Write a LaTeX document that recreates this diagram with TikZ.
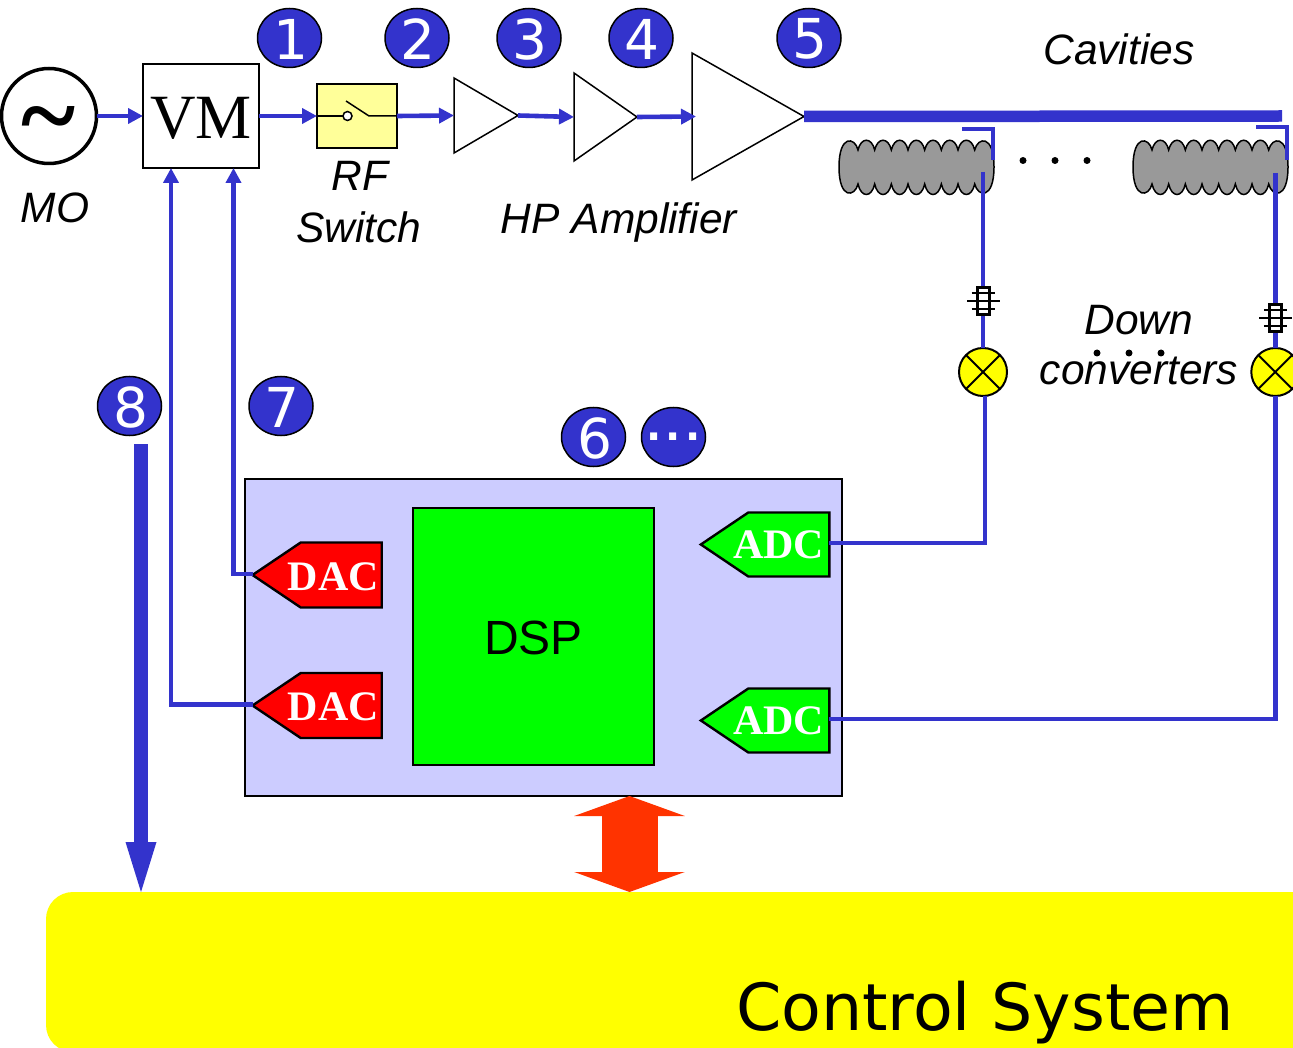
\documentclass[tikz,border=0pt]{standalone}
\usepackage{fontspec}
\setmainfont{Liberation Sans}
\newfontfamily\serffont{Liberation Serif}
\newfontfamily\verdfont{DejaVu Sans}
\usepackage{xcolor}
\usetikzlibrary{positioning,arrows.meta,shapes.geometric,shapes.symbols}
\definecolor{rfblue}{HTML}{3333CC}
\definecolor{boardblue}{HTML}{CCCCFF}
\definecolor{swyellow}{HTML}{FFFF99}
\definecolor{hotred}{HTML}{FF3300}
\definecolor{ctrlyellow}{HTML}{FFFF00}
\definecolor{dspgreen}{HTML}{00FF00}
\definecolor{dacred}{HTML}{FF0000}
\newcommand{\pxfont}[1]{\fontsize{#1}{#1}\selectfont}
% moves a text down without changing the box the node is centred on
\newcommand{\lowered}[2]{\raisebox{-#1pt}[\height][\depth]{#2}}
\tikzset{
  rfline/.style={draw=rfblue, line width=4.6pt},
  rfarrow/.style={rfline, -{Triangle[length=15pt,width=15pt]}},
  badge/.style={ellipse, draw=black, line width=1.5pt, fill=rfblue, text=white, minimum width=64pt, minimum height=59pt, inner sep=0pt, font=\verdfont\pxfont{55}},
  label/.style={font=\itshape\pxfont{42.5}, inner sep=0pt},
  amp/.style={isosceles triangle, isosceles triangle stretches, draw=black, line width=1.5pt, fill=white, anchor=lower side, inner sep=0pt, outer sep=0pt},
  dacbox/.style={signal, signal to=west, signal pointer angle=68, draw=black, line width=2.4pt, fill=dacred, text=white, minimum height=65pt, inner sep=0pt, outer sep=0pt, font=\serffont\bfseries\pxfont{42}},
  adcbox/.style={dacbox, fill=dspgreen, minimum height=64pt},
  mixer/.style={circle, draw=black, line width=2pt, fill=ctrlyellow, minimum size=48pt, inner sep=0pt, outer sep=0pt, path picture={
    \draw[line width=2pt] (path picture bounding box.south west) -- (path picture bounding box.north east);
    \draw[line width=2pt] (path picture bounding box.north west) -- (path picture bounding box.south east);}},
  dotmark/.style={circle, fill=black, minimum size=7pt, inner sep=0pt},
  pics/cavity/.style={code={
    % origin at the first valley of the upper edge; y runs downwards
    \path[draw=black, line width=1.5pt, fill=black!40] (0,0)
      \foreach \i in {1,...,7} {
        .. controls ({(\i-1)*16.67+3},-13) and ({\i*16.67-3},-13) .. ({\i*16.67},0)}
      .. controls (119.7,-13) and (136,-16) .. (136,17)
      .. controls (136,50) and (119.7,47) .. (116.7,34)
      \foreach \i in {6,...,0} {
        .. controls ({(\i+1)*16.67-3},48) and ({\i*16.67+3},48) .. ({\i*16.67},34)}
      .. controls (-3,47) and (-19,50) .. (-19,17)
      .. controls (-19,-16) and (-3,-13) .. (0,0) -- cycle;
  }},
  pics/coupler/.style={code={
    \draw[line width=3pt, fill=white] (-6,-13) rectangle (6,13.5);
    \draw[line width=2.4pt] (-16,0) -- (17,0);
    \draw[line width=2.4pt] (-11.5,-8) -- (11.5,-8);
    \draw[line width=2.4pt] (-11.5,8) -- (11.5,8);
  }}
}
% text wider than the rectangular part of the converter shape, pulled left
\newcommand{\convtxt}[2]{\makebox[81pt]{\kern#1pt #2}}
\begin{document}
\begin{tikzpicture}[x=1pt, y=-1pt]
  \useasboundingbox (0,0) rectangle (1293,1048);
  % control system runs off the page at right and bottom
  \begin{scope}
    \clip (0,0) rectangle (1293,1048);
    \node[draw=none, fill=ctrlyellow, rounded corners=27pt, anchor=north west, minimum width=1400pt, minimum height=160pt, inner sep=0pt, outer sep=0pt] (ctrl) at (46,892) {};
  \end{scope}
  \node[font=\verdfont\pxfont{65}, inner sep=0pt] (ctrltxt) at (985,1012.5) {Control System};
  % board with converters and DSP
  \node[draw=black, line width=2pt, fill=boardblue, anchor=north west, minimum width=597pt, minimum height=317pt, inner sep=0pt, outer sep=0pt] (board) at (245,479) {};
  \node[draw=black, line width=2pt, fill=dspgreen, anchor=north west, minimum width=241pt, minimum height=257pt, inner sep=0pt, outer sep=0pt, font=\pxfont{48}] (dsp) at (413,508) {\lowered{1}{DSP}};
  \node[dacbox] (daca) at (341.2,575) {\lowered{1.5}{\convtxt{-16}{DAC}}};
  \node[dacbox] (dacb) at (341.2,705.5) {\lowered{1.5}{\convtxt{-16}{DAC}}};
  \node[adcbox] (adca) at (788.8,544.5) {\convtxt{-20}{ADC}};
  \node[adcbox] (adcb) at (788.8,720.5) {\convtxt{-20}{ADC}};
  % source and RF chain
  \node[circle, draw=black, line width=3.5pt, minimum size=95pt, inner sep=0pt, outer sep=0pt] (mo) at (49,116) {};
  \node[font=\serffont\bfseries\pxfont{104}, inner sep=0pt] (tilde) at (49,129) {\textasciitilde};
  \node[draw=black, line width=1.5pt, fill=white, anchor=north west, minimum width=116pt, minimum height=104pt, inner sep=0pt, outer sep=0pt, font=\serffont\pxfont{63}] (vm) at (143,64) {\lowered{2.5}{VM}};
  \node[draw=black, line width=1.5pt, fill=swyellow, anchor=north west, minimum width=80pt, minimum height=64pt, inner sep=0pt, outer sep=0pt] (rfsw) at (317,84) {};
  \coordinate (swa) at (343,116);
  \coordinate (swb) at (369,116);
  \draw[line width=1.5pt] (rfsw.west) -- (swa);
  \draw[line width=1.5pt] (346,101) -- (swb) -- (rfsw.east);
  \draw[line width=1.5pt, fill=white] (347.5,116) circle (4.5);
  \node[amp, minimum height=64pt, minimum width=75pt] (ampa) at (454,115.5) {};
  \node[amp, minimum height=63pt, minimum width=88pt] (ampb) at (574,117) {};
  \node[amp, minimum height=112pt, minimum width=127pt] (ampc) at (692,116.5) {};
  \draw[rfarrow] (mo.east) -- (vm.west);
  \draw[rfarrow] (vm.east |- rfsw.west) -- (rfsw.west);
  \draw[rfarrow] (rfsw.east) -- (ampa.lower side);
  \draw[rfarrow] (ampa.apex) -- (ampb.lower side);
  \draw[rfarrow] (ampb.apex) -- ([xshift=4pt]ampc.lower side);
  \coordinate (busend) at (1282,116);
  \draw[draw=rfblue, line width=11.5pt] (ampc.apex) -- (busend);
  % cavities with their couplers
  \pic at (858,150) {cavity};
  \pic at (1152,150) {cavity};
  \foreach \xa in {1023,1055,1087} \node[dotmark] (dot\xa) at (\xa,160.5) {};
  \draw[rfline] (962,129) -- (993,129) -- (993,160);
  \draw[rfline] (1256,127) -- (1287,127) -- (1287,160);
  \pic at (983,301) {coupler};
  \pic at (1275.3,318) {coupler};
  \coordinate (cpla) at (983,286);
  \coordinate (cplb) at (1275.3,303);
  \coordinate (cpla2) at (983,316);
  \coordinate (cplb2) at (1275.3,333);
  \node[mixer] (mixa) at (983,372) {};
  \node[mixer] (mixb) at (1275.3,372) {};
  \foreach \xa in {1097,1129,1161} \node[dotmark] (dotc\xa) at (\xa,353) {};
  \coordinate (cava) at (983,172);
  \coordinate (cavb) at (1275.3,173);
  \draw[rfline] (cava) -- (cpla);
  \draw[rfline] (cavb) -- (cplb);
  \draw[rfline] (cpla2) -- (mixa.north);
  \draw[rfline] (cplb2) -- (mixb.north);
  \draw[rfline] (985,396) |- ([yshift=1.5pt]adca.east);
  \draw[rfline] (mixb.south) |- ([yshift=1.5pt]adcb.east);
  % feedback to the vector modulator
  \coordinate (vmin) at (171,168);
  \coordinate (vmq) at (233.5,168);
  \draw[rfarrow] ([yshift=1pt]daca.west) -| (vmq);
  \draw[rfarrow] ([yshift=1pt]dacb.west) -| (vmin);
  % thick arrows
  \coordinate (dataout) at (141,444);
  \coordinate (ctrlin) at (141,892);
  \draw[draw=rfblue, line width=14pt, -{Triangle[length=50pt,width=31pt,line width=0pt]}] (dataout) -- (ctrlin);
  \coordinate (boardlow) at (629.5,796);
  \coordinate (ctrltop) at (629.5,892);
  \draw[draw=hotred, line width=56pt, {Triangle[length=20pt,width=110pt]}-{Triangle[length=20pt,width=110pt]}] (boardlow) -- (ctrltop);
  % numbered badges
  \foreach \n/\xa/\ya in {1/289.5/38, 2/417/38, 3/529/38, 4/641/38, 5/809/38, 6/593.5/437, 7/281/406, 8/129.5/406}
    \node[badge] (num\n) at (\xa,\ya) {\lowered{1.2}{\hspace{2pt}\n}};
  \node[badge, font=\verdfont\bfseries\pxfont{40}] (nummore) at (673.5,437) {\makebox[0pt]{.\kern4.3pt.\kern4.3pt.}};
  % labels
  \node[label] (lblmo) at (55,208) {MO};
  \node[label] (lblrf) at (360,176) {RF};
  \node[label] (lblsw) at (359,227.5) {Switch};
  \node[label] (lblamp) at (619,223) {HP Amplifier};
  \node[label] (lblcav) at (1119,49.5) {Cavities};
  \node[label] (lbldown) at (1139,320) {Down};
  \node[label] (lblconv) at (1139,371) {converters};
\end{tikzpicture}
\end{document}
